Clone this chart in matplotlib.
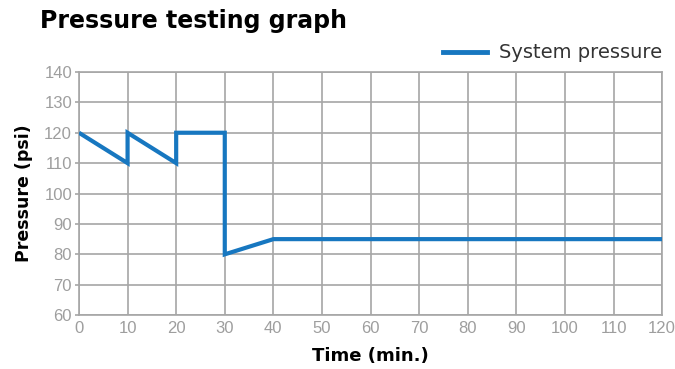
import matplotlib
matplotlib.use("Agg")
import matplotlib.pyplot as plt
from matplotlib.lines import Line2D

# Pressure readings over time (minutes, psi)
time_min = [0, 10, 10, 20, 20, 30, 30, 40, 120]
pressure_psi = [120, 110, 120, 110, 120, 120, 80, 85, 85]
x_ticks = list(range(0, 121, 10))
y_ticks = list(range(60, 141, 10))

line_color = "#1777c0"
grid_color = "#a6a6a6"
tick_color = "#9e9e9e"
head_font = "DejaVu Sans"

fig = plt.figure(figsize=(6.75, 3.69), dpi=100)
ax = fig.add_axes([0.117, 0.146, 0.864, 0.659])

ax.plot(time_min, pressure_psi, color=line_color, linewidth=3.0,
        solid_joinstyle="miter", solid_capstyle="butt", zorder=3)

ax.set_xlim(0, 120)
ax.set_ylim(60, 140)
ax.set_xticks(x_ticks)
ax.set_yticks(y_ticks)
ax.grid(True, color=grid_color, linewidth=1.2)
ax.set_axisbelow(True)
for s in ax.spines.values():
    s.set_color(grid_color)
    s.set_linewidth(1.2)

ax.tick_params(axis="x", length=0, pad=4, labelsize=12, labelcolor=tick_color)
ax.tick_params(axis="y", length=3, width=1.2, color=grid_color, pad=2,
               labelsize=12, labelcolor=tick_color)
for lab in ax.get_xticklabels() + ax.get_yticklabels():
    lab.set_fontfamily("Liberation Sans")

ax.set_xlabel("Time (min.)", fontsize=13, fontweight="bold",
              fontfamily=head_font, labelpad=8)
ax.set_ylabel("Pressure (psi)", fontsize=12.5, fontweight="bold",
              fontfamily=head_font, labelpad=8)

fig.text(0.059, 0.925, "Pressure testing graph", fontsize=17,
         fontweight="bold", fontfamily=head_font, va="baseline")

handle = Line2D([], [], color=line_color, linewidth=3.5)
leg = ax.legend([handle], ["System pressure"], loc="center right",
                bbox_to_anchor=(1.0, 1.0 + 19 / 243), frameon=False,
                handlelength=2.3, handletextpad=0.6, borderaxespad=0,
                borderpad=0, prop={"family": head_font, "size": 14})
for t in leg.get_texts():
    t.set_color("#333333")

fig.savefig("out.png", dpi=100)
